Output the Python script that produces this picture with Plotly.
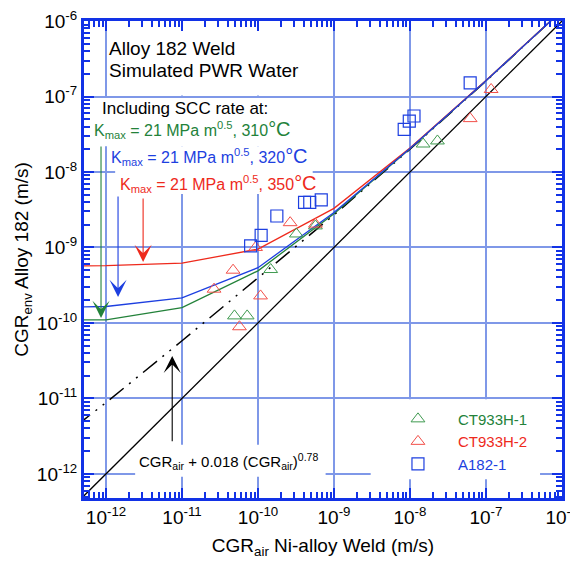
import plotly.graph_objects as go

# measured crack growth rates (m/s)
ct933h1_air = [4.9e-11, 7.2e-11, 1.47e-10, 3.2e-10, 5.7e-10, 1.49e-8, 2.3e-8]
ct933h1_env = [1.24e-10, 1.24e-10, 5.1e-10, 1.51e-9, 1.93e-9, 2.35e-8, 2.58e-8]

ct933h2_air = [2.64e-11, 4.7e-11, 5.7e-11, 1.08e-10, 9.3e-11, 2.65e-10, 5.7e-10, 6.2e-8, 1.17e-7]
ct933h2_env = [2.8e-10, 5.0e-10, 8.9e-11, 2.28e-10, 1.0e-9, 2.13e-9, 2.04e-9, 5.1e-8, 1.24e-7]

a182_air = [8.0e-11, 1.1e-10, 1.77e-10, 4.1e-10, 4.8e-10, 6.8e-10, 8.4e-9, 9.8e-9, 1.13e-8, 6.2e-8]
a182_env = [1.05e-9, 1.45e-9, 2.61e-9, 3.97e-9, 3.97e-9, 4.26e-9, 3.68e-8, 4.73e-8, 5.52e-8, 1.52e-7]

# model curves
curve_air = [4e-13, 1e-12, 1e-11, 1e-10, 1e-9, 1e-8, 1e-7, 1e-6]
model_air_only = [4.3e-12, 8.8e-12, 5.8e-11, 3.9e-10, 2.7e-9, 2.0e-8, 1.6e-7, 1.38e-6]
model_310 = [1.1e-10, 1.1e-10, 1.6e-10, 4.9e-10, 2.8e-9, 2.04e-8, 1.62e-7, 1.38e-6]
model_320 = [1.62e-10, 1.65e-10, 2.15e-10, 5.4e-10, 2.9e-9, 2.05e-8, 1.62e-7, 1.38e-6]
model_350 = [5.7e-10, 5.75e-10, 6.2e-10, 9.5e-10, 3.3e-9, 2.08e-8, 1.63e-7, 1.38e-6]
unity = [3e-13, 1e-6]

decades = [1e-12, 1e-11, 1e-10, 1e-9, 1e-8, 1e-7, 1e-6]
decade_labels = ["10<sup>-12</sup>", "10<sup>-11</sup>", "10<sup>-10</sup>", "10<sup>-9</sup>",
                 "10<sup>-8</sup>", "10<sup>-7</sup>", "10<sup>-6</sup>"]

GREEN = '#23823a'
BLUE = '#1d3fe0'
RED = '#ee2a1c'
AXIS = '#1232e6'
GRID = '#7f98e8'
FONT = 'Arial, Liberation Sans, sans-serif'

fig = go.Figure()

fig.add_trace(go.Scatter(x=unity, y=unity, mode='lines', line=dict(color='black', width=1.3),
                         showlegend=False, hoverinfo='skip'))
fig.add_trace(go.Scatter(x=curve_air, y=model_air_only, mode='lines',
                         line=dict(color='black', width=1.5, dash='18px,7px,2px,7px,2px,7px'),
                         showlegend=False, hoverinfo='skip'))
fig.add_trace(go.Scatter(x=curve_air, y=model_310, mode='lines', line=dict(color=GREEN, width=1.3),
                         showlegend=False))
fig.add_trace(go.Scatter(x=curve_air, y=model_350, mode='lines', line=dict(color=RED, width=1.3),
                         showlegend=False))
fig.add_trace(go.Scatter(x=curve_air, y=model_320, mode='lines', line=dict(color=BLUE, width=1.3),
                         showlegend=False))

fig.add_trace(go.Scatter(x=ct933h1_air, y=ct933h1_env, mode='markers',
                         name="<span style='color:%s'>CT933H-1</span>" % GREEN,
                         marker=dict(symbol='triangle-up-open', size=12, color='#3f9a50', line=dict(width=1))))
fig.add_trace(go.Scatter(x=ct933h2_air, y=ct933h2_env, mode='markers',
                         name="<span style='color:%s'>CT933H-2</span>" % RED,
                         marker=dict(symbol='triangle-up-open', size=12, color='#f2504a', line=dict(width=1))))
fig.add_trace(go.Scatter(x=a182_air, y=a182_env, mode='markers',
                         name="<span style='color:%s'>A182-1</span>" % BLUE,
                         marker=dict(symbol='square-open', size=12, color=BLUE, line=dict(width=1.2))))

# white boxes behind the text blocks (cover the grid, not the data)
boxes = [(-11.987, -9.18, -6.985, -6.0),
         (-12.2, -9.44, -7.02, -7.66),
         (-11.985, -9.44, -7.66, -7.92),
         (-11.88, -9.28, -7.92, -8.29),
         (-11.617, -9.11, -11.616, -12.04),
         (-8.517, -6.288, -11.012, -12.07)]
for bx0, bx1, by0, by1 in boxes:
    fig.add_shape(type='rect', xref='x', yref='y', x0=10 ** bx0, x1=10 ** bx1, y0=10 ** by0, y1=10 ** by1,
                  fillcolor='white', line=dict(width=0), layer='between')

def label(x, y, text, color='black', size=19):
    fig.add_annotation(x=x, y=y, xref='x', yref='y', text=text, showarrow=False, xanchor='left',
                       yanchor='middle', font=dict(family=FONT, size=size, color=color))

label(-11.987, -6.358, 'Alloy 182 Weld')
label(-11.987, -6.649, 'Simulated PWR Water')
label(-12.079, -7.152, 'Including SCC rate at:', size=17)
deg = "<span style='font-size:20px'>°C</span>"
label(-12.185, -7.44, 'K<sub>max</sub> = 21 MPa m<sup>0.5</sup>, 310' + deg, GREEN, 16)
label(-11.96, -7.79, 'K<sub>max</sub> = 21 MPa m<sup>0.5</sup>, 320' + deg, BLUE, 16)
label(-11.842, -8.15, 'K<sub>max</sub> = 21 MPa m<sup>0.5</sup>, 350' + deg, RED, 16)
label(-11.591, -11.84, 'CGR<sub>air</sub> + 0.018 (CGR<sub>air</sub>)<sup>0.78</sup>', size=15)

def arrow(x, y_tip, y_tail, color):
    fig.add_annotation(x=x, y=y_tip, ax=x, ay=y_tail, xref='x', yref='y', axref='x', ayref='y',
                       text='', showarrow=True, arrowhead=3, arrowsize=2.6, arrowwidth=1.1,
                       arrowcolor=color)

arrow(-11.512, -9.192, -8.331, RED)
arrow(-11.842, -9.656, -8.305, BLUE)
arrow(-12.066, -9.934, -7.642, GREEN)
arrow(-11.129, -10.437, -11.589, 'black')

minor_vals = [m * 10.0 ** k for k in range(-13, -6) for m in range(2, 10)]

axis_style = dict(type='log', showline=True, linecolor=AXIS, linewidth=3, mirror='ticks',
                  ticks='inside', ticklen=10, tickwidth=2, tickcolor=AXIS,
                  tickvals=decades, ticktext=decade_labels, automargin=False,
                  ticklabeloverflow='allow',
                  showgrid=True, gridcolor=GRID, gridwidth=2, zeroline=False,
                  tickfont=dict(family=FONT, size=19, color='black'),
                  minor=dict(tickvals=minor_vals, ticks='inside', ticklen=6, tickwidth=2,
                             tickcolor=AXIS, showgrid=False))

# the page body adds an 8 px offset, margins compensate for it
fig.update_layout(
    width=578, height=564,
    margin=dict(l=76, r=24, t=13, b=74),
    plot_bgcolor='white', paper_bgcolor='white',
    xaxis=dict(axis_style, range=[-12.29, -5.999],
               title=dict(text='CGR<sub>air</sub> Ni-alloy Weld (m/s)', standoff=12,
                          font=dict(family=FONT, size=19, color='black'))),
    yaxis=dict(axis_style, range=[-12.32, -5.999],
               title=dict(text='CGR<sub>env</sub> Alloy 182 (m/s)', standoff=4,
                          font=dict(family=FONT, size=19, color='black'))),
    legend=dict(x=0.615, y=0.2, xanchor='left', yanchor='top', bgcolor='rgba(0,0,0,0)',
                font=dict(family=FONT, size=15), itemwidth=70, traceorder='normal'),
    showlegend=True,
)

fig.write_html("out.html")
